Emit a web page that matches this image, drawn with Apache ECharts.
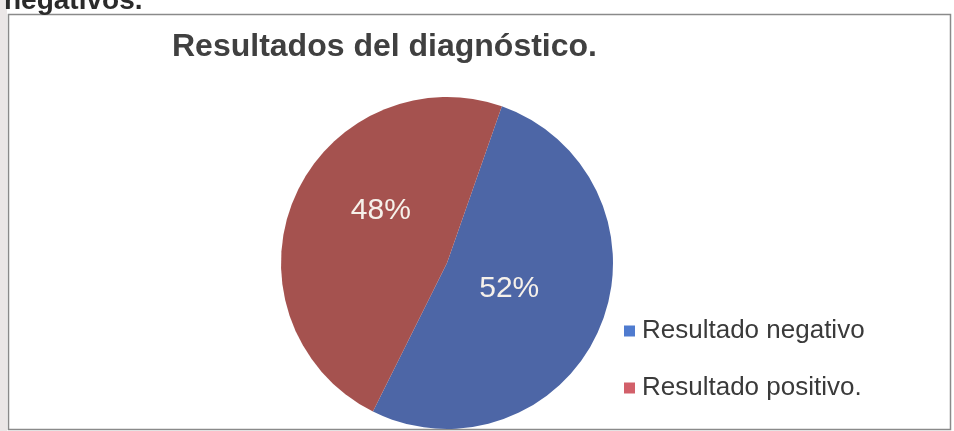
<!DOCTYPE html>
<html>
<head>
<meta charset="utf-8">
<script src="https://cdn.jsdelivr.net/npm/echarts@6/dist/echarts.min.js"></script>
<style>
html,body{margin:0;padding:0;background:#ffffff;}
#c{width:954px;height:431px;}
</style>
</head>
<body>
<div id="c"></div>
<script>
const titleText = 'Resultados del diagnóstico.';
const categories = ['Resultado negativo', 'Resultado positivo.'];
const values = [52, 48];
const sliceColors = ['#4d66a6', '#a5524f'];
const legendColors = ['#4f7bcf', '#d2606a'];

const chart = echarts.init(document.getElementById('c'), null, {renderer: 'canvas'});
chart.setOption({
  backgroundColor: '#ffffff',
  animation: false,
  title: {
    text: titleText,
    left: 172,
    top: 31,
    padding: 0,
    textStyle: {
      fontFamily: 'Liberation Sans, Arial, sans-serif',
      fontSize: 32,
      fontWeight: 'bold',
      color: '#404040'
    }
  },
  legend: {
    orient: 'vertical',
    left: 624,
    top: 318,
    padding: 0,
    itemGap: 31,
    itemWidth: 11,
    itemHeight: 11,
    icon: 'rect',
    textStyle: {
      fontFamily: 'Liberation Sans, Arial, sans-serif',
      fontSize: 26,
      color: '#3a3a3a',
      padding: [0, 0, 0, 2]
    },
    data: categories.map((name, i) => ({name: name, itemStyle: {color: legendColors[i]}}))
  },
  graphic: [
    {
      type: 'rect',
      shape: {x: 8.5, y: 14.5, width: 942, height: 415},
      style: {fill: 'none', stroke: '#8a8a8a', lineWidth: 1.5},
      silent: true
    },
    {
      type: 'rect',
      shape: {x: 0, y: 0, width: 7, height: 431},
      style: {fill: '#ebe7e7'},
      silent: true
    },
    {
      type: 'text',
      left: 4,
      top: -13,
      style: {
        text: 'negativos.',
        font: 'bold 28px "Liberation Sans", Arial, sans-serif',
        fill: '#2a2a2a'
      },
      silent: true
    }
  ],
  series: [{
    type: 'pie',
    center: [447, 263],
    radius: 166,
    startAngle: 70.7,
    clockwise: true,
    avoidLabelOverlap: false,
    label: {
      show: true,
      position: 'inside',
      formatter: '{d}%',
      fontFamily: 'Liberation Sans, Arial, sans-serif',
      fontSize: 30,
      color: '#f6f1ea',
      textBorderWidth: 0
    },
    labelLine: {show: false},
    labelLayout: function (p) {
      return p.dataIndex === 0 ? {dx: -17, dy: -8} : {dx: 13, dy: -19};
    },
    emphasis: {disabled: true},
    itemStyle: {borderWidth: 0},
    data: categories.map((name, i) => ({name: name, value: values[i], itemStyle: {color: sliceColors[i]}}))
  }]
});
</script>
</body>
</html>
